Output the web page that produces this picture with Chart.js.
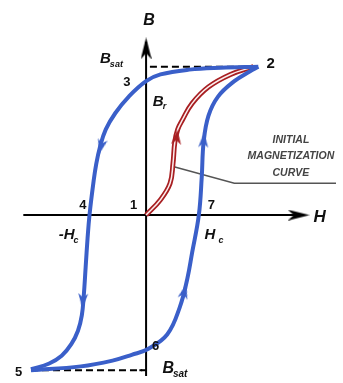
<!DOCTYPE html>
<html lang="en">
<head>
    <meta charset="UTF-8">
    <title>Hysteresis Loop</title>
    <script src="https://cdn.jsdelivr.net/npm/chart.js"></script>
    <style>
        html, body { margin: 0; padding: 0; background: #fff; }
        #wrap { width: 343px; height: 383px; }
    </style>
</head>
<body>
<div id="wrap"><canvas id="loop" width="343" height="383"></canvas></div>
<script>
// field strength H and flux density B along each branch (arbitrary units)
const upperH = [117, 78, 45, 15, 0, -18, -32, -42, -48, -52, -55, -59, -61, -63, -65, -67, -71, -78, -88, -101, -120];
const upperB = [154, 153, 151, 146, 139, 123, 106, 89, 71, 53, 33, 0, -24, -54, -84, -104, -120, -134, -146, -154, -160];
const lowerH = [-120, -68, -35, -15, 2, 22, 35, 43, 48, 55, 58, 60, 65, 75, 92, 108, 117];
const lowerB = [-161, -157, -151, -145, -139, -124, -96, -66, -39, 0, 39, 76, 103, 123, 139, 149, 154];
const initH = [0, 15, 25, 28, 30, 33, 38, 48, 65, 88, 112];
const initB = [0, 16, 33, 53, 76, 89, 99, 116, 133, 146, 154];
const Bsat = 154;
const BsatNeg = -161;
const Hsat = 117;
const HsatNeg = -120;

// direction markers on the curves
const blueArrowH = [-47, -66, 40, 60];
const blueArrowB = [71, -89, -79, 78];
const blueArrowRot = [194, 184, 15, 3];
const redArrowH = [32];
const redArrowB = [81];
const redArrowRot = [5];

function pts(xs, ys) {
    return xs.map(function (x, i) { return { x: x, y: ys[i] }; });
}

// small arrow head image, tip pointing up
function makeArrow(color, w, h) {
    const c = document.createElement('canvas');
    c.width = w; c.height = h;
    const g = c.getContext('2d');
    g.fillStyle = color;
    g.beginPath();
    g.moveTo(w / 2, 0);
    g.lineTo(w, h);
    g.lineTo(w / 2, h * 0.72);
    g.lineTo(0, h);
    g.closePath();
    g.fill();
    return c;
}

const BLUE = '#3a5fc9';
const RED = '#a81f22';
const blueHead = makeArrow(BLUE, 10, 15);
const redHead = makeArrow(RED, 10, 15);
const axisHead = makeArrow('#000', 11, 22);

// text labels: [text, subscript, H, B, size, italic, align]
const labels = [
    ['B', '', 3, 202, 16, true, 'center'],
    ['B', 'sat', -48, 162, 15, true, 'left'],
    ['3', '', -20, 138, 13, false, 'center'],
    ['B', 'r', 7, 118, 15, true, 'left'],
    ['2', '', 130, 157, 15, false, 'center'],
    ['4', '', -66, 10, 13, false, 'center'],
    ['1', '', -13, 10, 13, false, 'center'],
    ['7', '', 68, 10, 13, false, 'center'],
    ['H', '', 181, -2, 17, true, 'center'],
    ['-H', 'c', -91, -21, 15, true, 'left'],
    ['H ', 'c', 61, -21, 15, true, 'left'],
    ['5', '', -133, -163, 13, false, 'center'],
    ['6', '', 10, -136, 13, false, 'center'],
    ['B', 'sat', 17, -159, 16, true, 'left']
];
const noteLines = ['INITIAL', 'MAGNETIZATION', 'CURVE'];

const textPlugin = {
    id: 'texts',
    afterDatasetsDraw: function (chart) {
        const ctx = chart.ctx;
        const xs = chart.scales.x, ys = chart.scales.y;
        ctx.save();
        ctx.fillStyle = '#111';
        ctx.textBaseline = 'middle';
        labels.forEach(function (l) {
            const px = xs.getPixelForValue(l[2]);
            const py = ys.getPixelForValue(l[3]);
            ctx.font = (l[5] ? 'italic ' : '') + 'bold ' + l[4] + 'px "Liberation Sans", Arial, sans-serif';
            ctx.textAlign = l[6];
            ctx.fillText(l[0], px, py);
            if (l[1]) {
                const w = ctx.measureText(l[0]).width;
                ctx.font = 'italic bold ' + Math.round(l[4] * 0.6) + 'px "Liberation Sans", Arial, sans-serif';
                ctx.textAlign = 'left';
                ctx.fillText(l[1], px + w - 1, py + l[4] * 0.35);
            }
        });
        ctx.fillStyle = '#444';
        ctx.font = 'italic bold 10.5px "Liberation Sans", Arial, sans-serif';
        ctx.textAlign = 'center';
        noteLines.forEach(function (t, i) {
            ctx.fillText(t, xs.getPixelForValue(151), ys.getPixelForValue(78 - i * 17));
        });
        ctx.restore();
    }
};

const line = function (data, color, width, extra) {
    return Object.assign({
        type: 'line',
        data: data,
        borderColor: color,
        borderWidth: width,
        pointRadius: 0,
        fill: false,
        tension: 0
    }, extra || {});
};

new Chart(document.getElementById('loop'), {
    type: 'scatter',
    data: {
        datasets: [
            // axes
            line([{ x: 0, y: -170 }, { x: 0, y: 180 }], '#000', 2, { order: 9 }),
            line([{ x: -128, y: 0 }, { x: 160, y: 0 }], '#000', 2, { order: 9 }),
            // saturation dashes
            line([{ x: 4, y: Bsat }, { x: Hsat, y: Bsat }], '#000', 2, { borderDash: [7, 4], order: 8 }),
            line([{ x: HsatNeg, y: BsatNeg }, { x: -4, y: BsatNeg }], '#000', 2, { borderDash: [7, 4], order: 8 }),
            line([{ x: -7, y: BsatNeg }, { x: 0, y: BsatNeg }], '#000', 2, { order: 8 }),
            // leader line to the note
            line([{ x: 30, y: 50 }, { x: 92, y: 33 }, { x: 200, y: 33 }], '#555', 1.5, { order: 7 }),
            // initial magnetization curve (double line)
            line(pts(initH, initB), RED, 5, { tension: 0.4, order: 5 }),
            line(pts(initH, initB), '#fbeeee', 1.5, { tension: 0.4, order: 4 }),
            // hysteresis loop
            line(pts(upperH, upperB), BLUE, 4, { tension: 0.4, order: 3 }),
            line(pts(lowerH, lowerB), BLUE, 4, { tension: 0.4, order: 3 }),
            // arrows
            {
                data: pts(blueArrowH, blueArrowB),
                pointStyle: blueHead,
                pointRotation: blueArrowRot,
                pointRadius: 6,
                order: 1
            },
            {
                data: pts(redArrowH, redArrowB),
                pointStyle: redHead,
                pointRotation: redArrowRot,
                pointRadius: 6,
                order: 1
            },
            {
                data: [{ x: 0, y: 173 }, { x: 159, y: 0 }],
                pointStyle: axisHead,
                pointRotation: [0, 90],
                pointRadius: 6,
                order: 1
            }
        ]
    },
    options: {
        responsive: false,
        animation: false,
        layout: { padding: 0 },
        plugins: { legend: { display: false }, tooltip: { enabled: false } },
        scales: {
            x: { type: 'linear', min: -145, max: 198, display: false },
            y: { type: 'linear', min: -167, max: 216, display: false }
        }
    },
    plugins: [textPlugin]
});
</script>
</body>
</html>
